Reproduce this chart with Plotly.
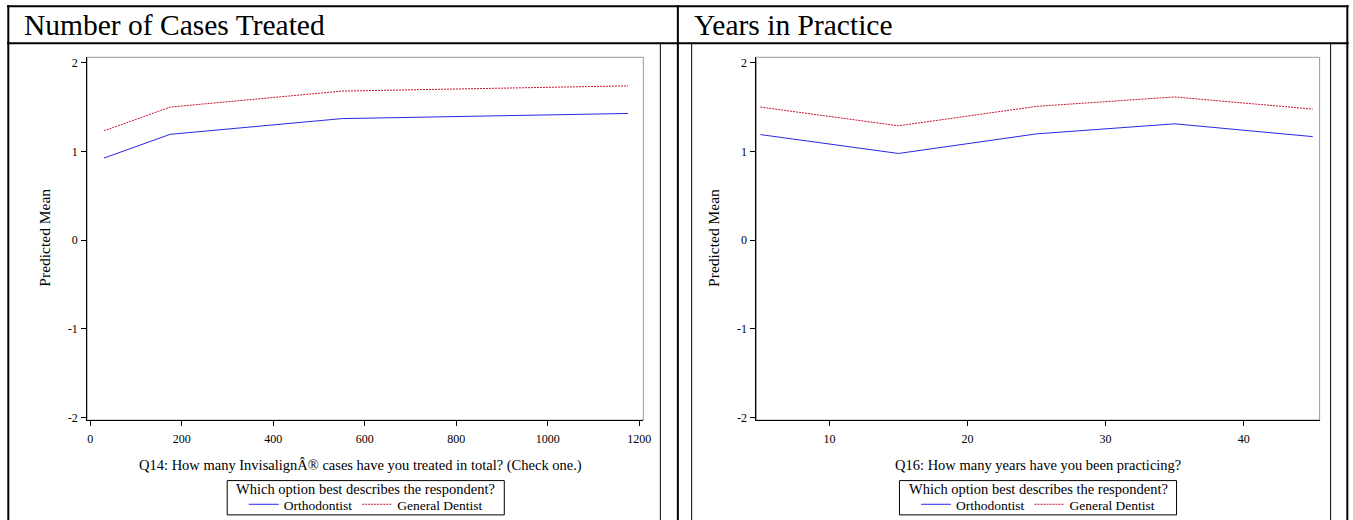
import plotly.graph_objects as go

# ---------------- data ----------------
series_names = ["Orthodontist", "General Dentist"]
panel_titles = ["Number of Cases Treated", "Years in Practice"]
x_titles = ["Q14: How many InvisalignÂ® cases have you treated in total? (Check one.)",
            "Q16: How many years have you been practicing?"]
y_title = "Predicted Mean"
legend_title = "Which option best describes the respondent?"

cases_x = [30, 175, 550, 1175]
cases_ortho = [0.925, 1.193, 1.37, 1.428]
cases_gp = [1.232, 1.50, 1.68, 1.739]

years_x = [5, 15, 25, 35, 45]
years_ortho = [1.19, 0.977, 1.198, 1.311, 1.167]
years_gp = [1.50, 1.289, 1.508, 1.614, 1.477]

cases_ticks = [0, 200, 400, 600, 800, 1000, 1200]
years_ticks = [10, 20, 30, 40]
y_ticks = [-2, -1, 0, 1, 2]
y_tick_labels = ["-2", "-1", "0", "1", "2"]

# ---------------- layout helpers ----------------
W, H = 1353, 520
FONT = "Liberation Serif"
BLUE = "rgb(40,40,230)"
RED = "rgb(200,20,50)"

# the photographed page comes out slightly compressed; pre-compensate positions
SX, OX = 0.9937, 0.9
SY, OY = 0.980, 1.5


def px(x):
    return ((x - OX) / SX) / W


def py(y):
    return 1 - ((y - OY) / SY) / H


fig = go.Figure()

fig.add_trace(go.Scatter(x=cases_x, y=cases_ortho, mode="lines", name=series_names[0],
                         line=dict(color=BLUE, width=1), xaxis="x", yaxis="y", legend="legend"))
fig.add_trace(go.Scatter(x=cases_x, y=cases_gp, mode="lines", name=series_names[1],
                         line=dict(color=RED, width=1, dash="2px,1px"), xaxis="x", yaxis="y", legend="legend"))
fig.add_trace(go.Scatter(x=years_x, y=years_ortho, mode="lines", name=series_names[0],
                         line=dict(color=BLUE, width=1), xaxis="x2", yaxis="y2", legend="legend2"))
fig.add_trace(go.Scatter(x=years_x, y=years_gp, mode="lines", name=series_names[1],
                         line=dict(color=RED, width=1, dash="2px,1px"), xaxis="x2", yaxis="y2", legend="legend2"))

axis_common = dict(showgrid=False, zeroline=False, showline=True, linecolor="black", linewidth=1,
                   ticks="outside", ticklen=5, tickcolor="black", tickwidth=1,
                   tickfont=dict(family=FONT, size=12, color="black"))
ydom = [py(417), py(57.3)]
yrange = [-2.027, 2.061]

fig.update_layout(
    width=W, height=H, autosize=False,
    margin=dict(l=0, r=0, t=0, b=0),
    paper_bgcolor="white", plot_bgcolor="white",
    font=dict(family=FONT, color="black"),
    xaxis=dict(domain=[px(88), px(644)], range=[-6.6, 1208.7], tickvals=cases_ticks,
               anchor="y", ticklabelstandoff=3, **axis_common),
    yaxis=dict(domain=ydom, range=yrange, tickvals=y_ticks, ticktext=y_tick_labels,
               anchor="x", ticklabelstandoff=1, **axis_common),
    xaxis2=dict(domain=[px(757), px(1320)], range=[4.71, 45.5], tickvals=years_ticks,
                anchor="y2", ticklabelstandoff=3, **axis_common),
    yaxis2=dict(domain=ydom, range=yrange, tickvals=y_ticks, ticktext=y_tick_labels,
                anchor="x2", ticklabelstandoff=1, **axis_common),
)

# native legends hold the items; the boxed title is drawn around them
for key, cx in (("legend", 366.5), ("legend2", 1038.5)):
    fig.update_layout(**{key: dict(
        x=px(cx), y=py(501), xanchor="center", yanchor="middle", orientation="h",
        borderwidth=0, bgcolor="rgba(0,0,0,0)",
        font=dict(family=FONT, size=13.5), itemwidth=30,
        tracegroupgap=0,
    )})

shapes = []
# plot frames (grey)
for xr, yr in (("x domain", "y domain"), ("x2 domain", "y2 domain")):
    shapes.append(dict(type="rect", xref=xr, yref=yr, x0=0, x1=1, y0=0, y1=1,
                       line=dict(color="#9a9a9a", width=1), layer="below"))


def hline(y, x0, x1, w):
    shapes.append(dict(type="line", xref="paper", yref="paper", x0=px(x0), x1=px(x1),
                       y0=py(y), y1=py(y), line=dict(color="black", width=w)))


def vline(x, y0, y1, w):
    shapes.append(dict(type="line", xref="paper", yref="paper", x0=px(x), x1=px(x),
                       y0=py(y0), y1=py(y1), line=dict(color="black", width=w)))


hline(6.7, 8, 1349, 2)
hline(43.3, 8, 1349, 2)
vline(9.2, 5.7, 540, 2)
vline(1347.7, 5.7, 540, 2)
vline(678.5, 5.7, 540, 2)
vline(661, 43, 540, 1)
vline(692.3, 43, 540, 1)
vline(1331, 43, 540, 1)

# legend boxes
for x0, x1 in ((228, 505), (900, 1177)):
    shapes.append(dict(type="rect", xref="paper", yref="paper", x0=px(x0), x1=px(x1),
                       y0=py(511), y1=py(477), line=dict(color="black", width=1),
                       fillcolor="rgba(0,0,0,0)", layer="below"))

annotations = []
for t, x in zip(panel_titles, (23, 693)):
    annotations.append(dict(text=t, x=px(x), y=py(25), xref="paper", yref="paper",
                            xanchor="left", yanchor="middle", showarrow=False,
                            font=dict(family=FONT, size=29.5, color="black")))
for x in (45, 714):
    annotations.append(dict(text=y_title, x=px(x), y=py(236), xref="paper", yref="paper",
                            xanchor="center", yanchor="middle", textangle=-90, showarrow=False,
                            font=dict(family=FONT, size=15.5, color="black")))
for t, x in zip(x_titles, (361.5, 1038)):
    annotations.append(dict(text=t, x=px(x), y=py(462), xref="paper", yref="paper",
                            xanchor="center", yanchor="middle", showarrow=False,
                            font=dict(family=FONT, size=14.5, color="black")))
for x in (366.5, 1038.5):
    annotations.append(dict(text=legend_title, x=px(x), y=py(485.5), xref="paper", yref="paper",
                            xanchor="center", yanchor="middle", showarrow=False,
                            font=dict(family=FONT, size=14.5, color="black")))

fig.update_layout(shapes=shapes, annotations=annotations)

post = ("document.body.style.margin='0';"
        "document.documentElement.style.overflow='hidden';"
        "document.body.style.overflow='hidden';")
fig.write_html("out.html", post_script=post,
               config={"responsive": False, "displayModeBar": False})
